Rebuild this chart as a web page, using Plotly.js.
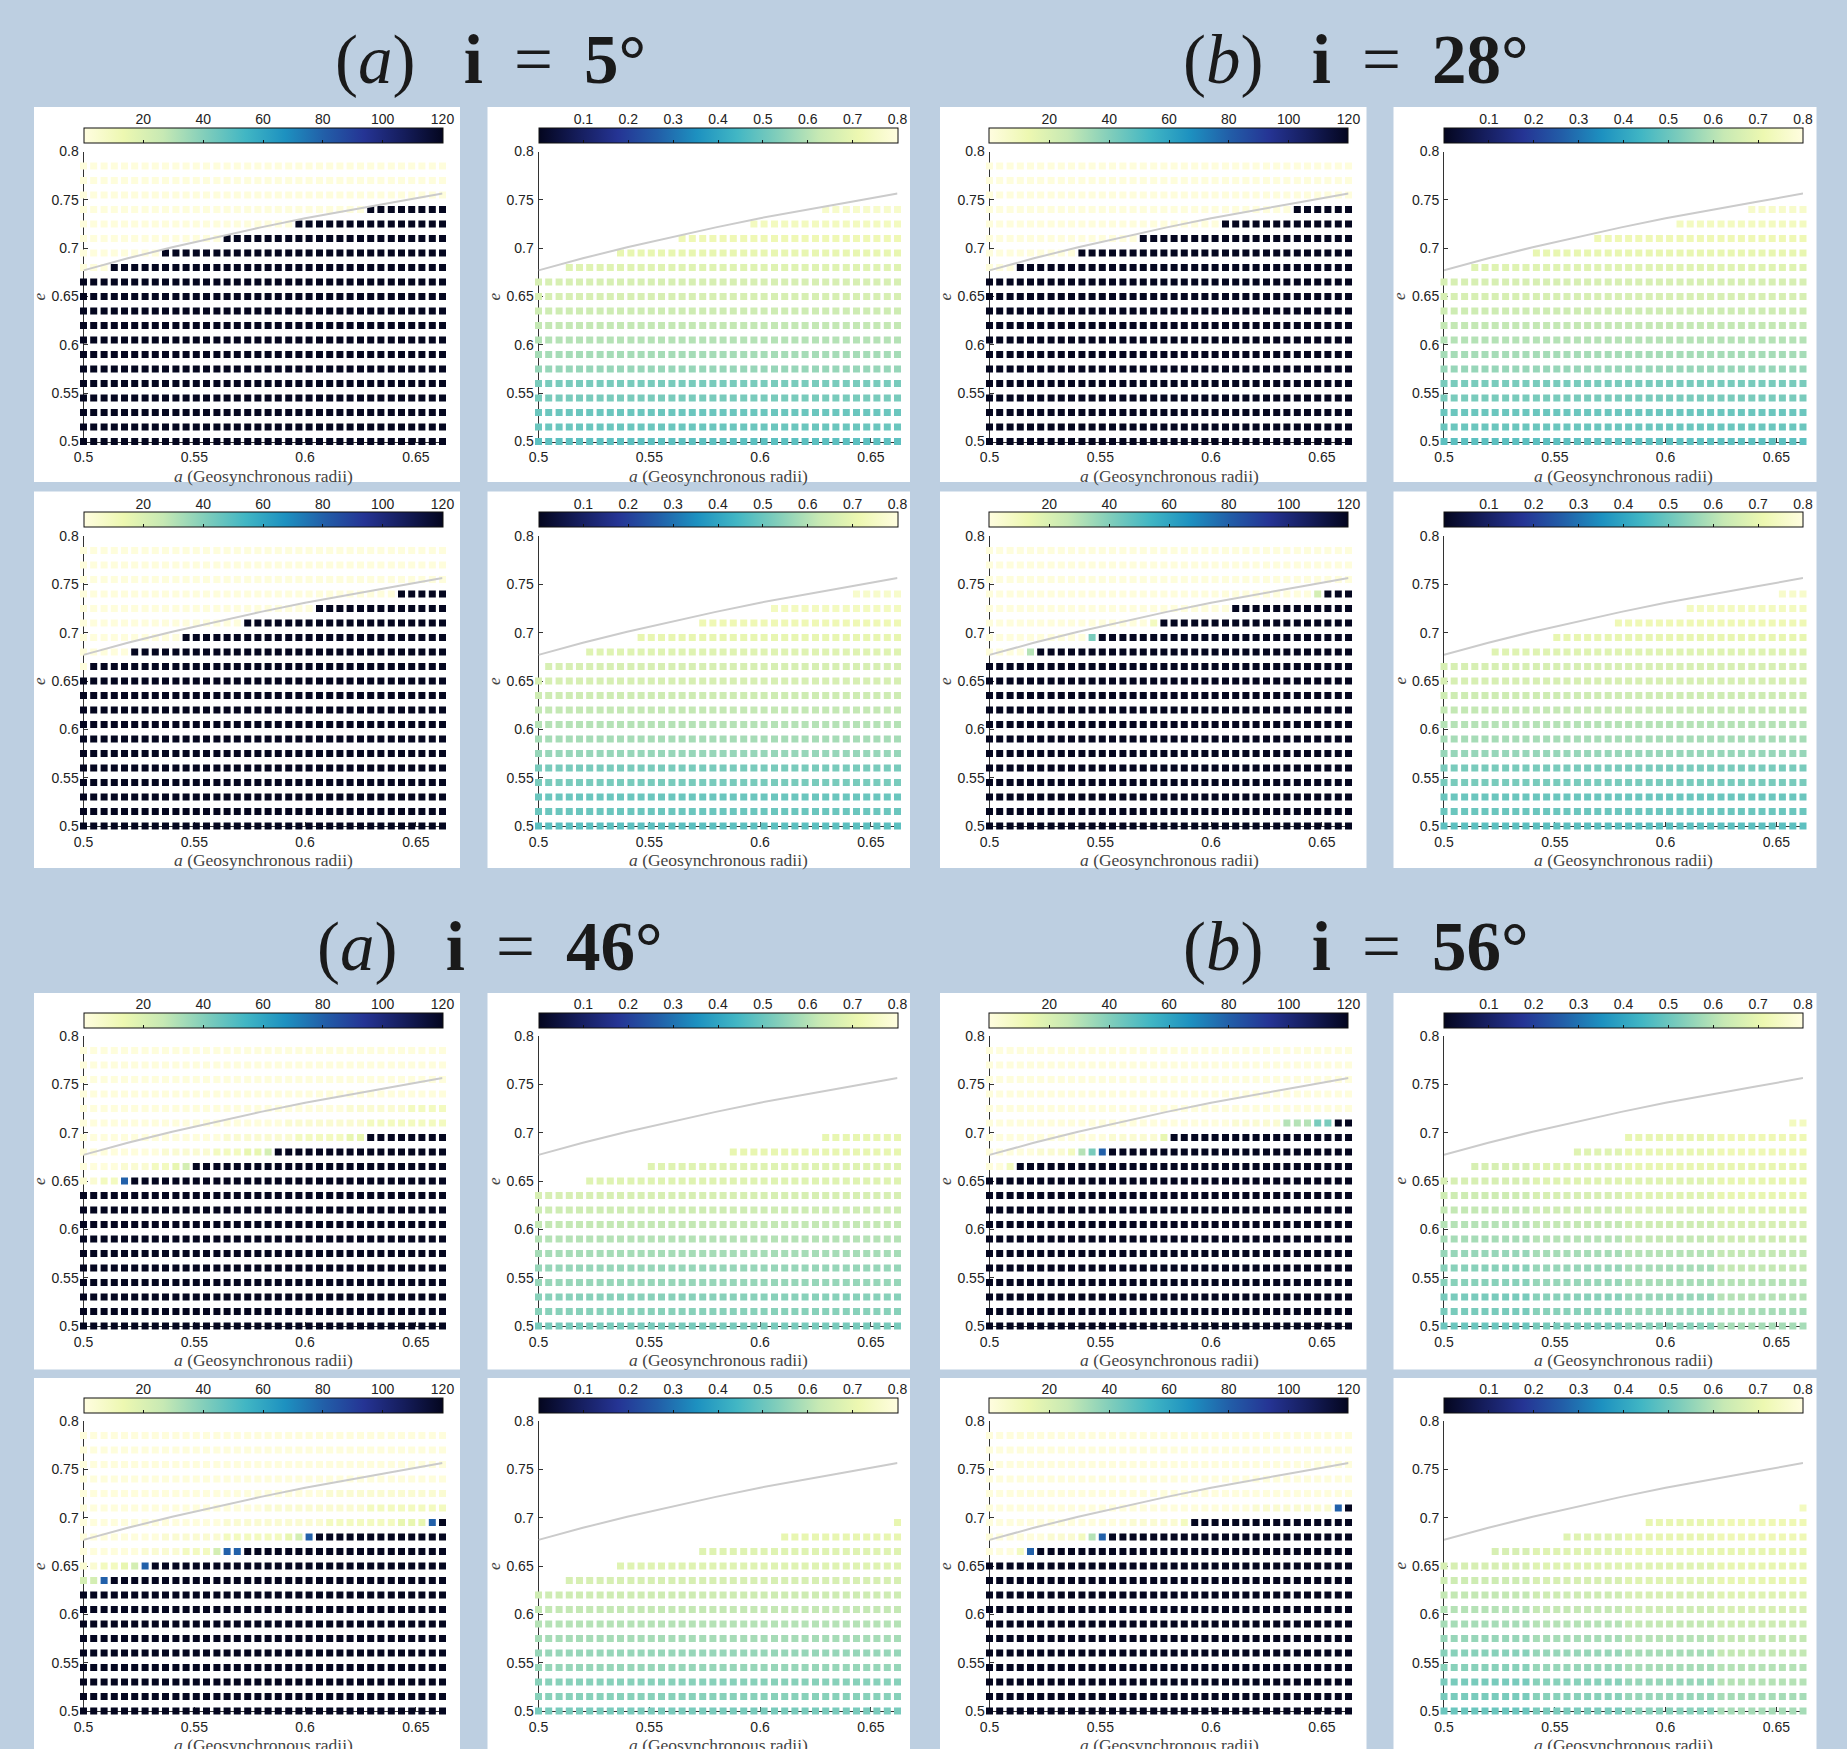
<!DOCTYPE html>
<html><head><meta charset="utf-8">
<script src="https://cdn.plot.ly/plotly-3.0.1.min.js"></script>
<style>html,body{margin:0;padding:0;background:#BDCFE1;} #chart{width:1847px;height:1749px;}</style>
</head><body><div id="chart"></div>
<script>
// ---------------- DATA ----------------
// semi-major axis grid (Geosynchronous radii), 36 columns
const A_VALUES = [0.5, 0.5046, 0.5093, 0.5139, 0.5185, 0.5231, 0.5278, 0.5324, 0.5370, 0.5417,
  0.5463, 0.5509, 0.5555, 0.5602, 0.5648, 0.5694, 0.5741, 0.5787, 0.5833, 0.5879,
  0.5926, 0.5972, 0.6018, 0.6065, 0.6111, 0.6157, 0.6203, 0.6250, 0.6296, 0.6342,
  0.6389, 0.6435, 0.6481, 0.6527, 0.6574, 0.6620];
// eccentricity grid, 20 rows (bottom to top)
const E_VALUES = [0.5, 0.515, 0.53, 0.545, 0.56, 0.575, 0.59, 0.605, 0.62, 0.635,
  0.65, 0.665, 0.68, 0.695, 0.71, 0.725, 0.74, 0.755, 0.77, 0.785];
// grey limiting curve
const CURVE_A = [0.5, 0.52, 0.54, 0.56, 0.58, 0.60, 0.62, 0.64, 0.662];
const CURVE_E = [0.677, 0.6895, 0.701, 0.7115, 0.7215, 0.731, 0.7395, 0.7475, 0.7565];

const X_TICKS = [0.5, 0.55, 0.6, 0.65];
const X_TICK_TEXT = ['0.5', '0.55', '0.6', '0.65'];
const Y_TICKS = [0.5, 0.55, 0.6, 0.65, 0.7, 0.75, 0.8];
const Y_TICK_TEXT = ['0.5', '0.55', '0.6', '0.65', '0.7', '0.75', '0.8'];
const LIFE_TICKS = [20, 40, 60, 80, 100, 120];
const ECC_TICKS = [0.1, 0.2, 0.3, 0.4, 0.5, 0.6, 0.7, 0.8];
const LIFE_RANGE = [0, 120];
const ECC_RANGE = [0, 0.8];

const SP = '\u00a0', TH = '\u2009';
const GROUP_TITLES = [
  '(<i>a</i>)' + SP + SP + TH + '<b>i</b>' + SP + TH + '=' + SP + TH + '<b>5°</b>',
  '(<i>b</i>)' + SP + SP + TH + '<b>i</b>' + SP + TH + '=' + SP + TH + '<b>28°</b>',
  '(<i>a</i>)' + SP + SP + TH + '<b>i</b>' + SP + TH + '=' + SP + TH + '<b>46°</b>',
  '(<i>b</i>)' + SP + SP + TH + '<b>i</b>' + SP + TH + '=' + SP + TH + '<b>56°</b>'
];
const X_TITLE = '<i>a</i> (Geosynchronous radii)';
const Y_TITLE = '<i>e</i>';

// level codes
const LIFE_LEVELS = {'.': 1, ',': 4, 'y': 9, 'Y': 15, 'g': 22, 'G': 30, 't': 42, 'T': 52, 'c': 64, 'b': 80, 'B': 95, '#': 120};
const ECC_CODES = 'abcdefghijklmnopqrst'; // a=0.40 ... step 0.02

// rows bottom (e=0.5) -> top (e=0.785); run-length "count+code"
const LIFE_I5_1 = ['36#','36#','36#','36#','36#','36#','36#','36#','36#','36#','36#','36#',
  '3. 33#','8. 28#','14. 22#','21. 15#','28. 8#','36.','36.','36.'];
const ECC_I5_1 = ['36e','36f','36f','36g','36g','36i','36j','36k','36l','36m','36n','36n',
  '3- 33o','8- 28p','14- 22q','21- 15r','28- 8s','36-','36-','36-'];
const LIFE_I5_2 = ['36#','36#','36#','36#','36#','36#','36#','36#','36#','36#','36#',
  '1. 35#','5. 31#','10. 26#','16. 20#','23. 13#','31. 5#','36.','36.','36.'];
const ECC_I5_2 = ['36e','36f','36f','36g','36g','36i','36j','36k','36l','36m','36n',
  '1- 35n','5- 31o','10- 26p','16- 20q','23- 13r','31- 5s','36-','36-','36-'];
const LIFE_I28_1 = ['36#','36#','36#','36#','36#','36#','36#','36#','36#','36#','36#','36#',
  '3. 33#','9. 27#','15. 21#','23. 13#','30. 6#','36.','36.','36.'];
const ECC_I28_1 = ['36e','36f','36f','36g','36g','36i','36j','36k','36l','36m','36n','36n',
  '3- 33o','9- 27p','15- 21q','23- 13r','30- 6s','36-','36-','36-'];
const LIFE_I28_2 = ['36#','36#','36#','36#','36#','36#','36#','36#','36#','36#','36#','36#',
  '4. 1G 31#','10. 1t 25#','16. 1y 19#','24. 12#','32. 1g 3#','36.','36.','36.'];
const ECC_I28_2 = ['36e','36f','36f','36g','36g','36i','36j','36k','36l','36m','36n','36n',
  '5- 31o','11- 25p','17- 19q','24- 12r','33- 3s','36-','36-','36-'];
const LIFE_I46_1 = ['36#','36#','36#','36#','36#','36#','36#','36#','36#','36#',
  '2, 2y 1b 31#','4. 3, 2y 1Y 1g 25#','8. 5, 3y 2Y 1g 17#','14. 7, 5y 2Y 8#','20. 8, 8y','26. 6, 4y','36.','36.','36.','36.'];
const ECC_I46_1 = ['36g','36h','36h','36i','36i','36j','36k','36l','36m','36n',
  '5- 31o','11- 25o','19- 17p','28- 8p','36-','36-','36-','36-','36-','36-'];
const LIFE_I46_2 = ['36#','36#','36#','36#','36#','36#','36#','36#','36#',
  '2g 1b 33#','2, 2y 1Y 1g 1b 29#','6. 4, 3y 1g 2b 20#','8. 6, 6y 1Y 1g 1b 13#','14. 10, 7y 3Y 1b 1#','18. 10, 8y','24. 12,','36.','36.','36.','36.'];
const ECC_I46_2 = ['36g','36h','36h','36i','36i','36j','36k','36l','36m',
  '3- 33n','8- 28o','16- 20o','24- 12p','35- 1p','36-','36-','36-','36-','36-','36-'];
const LIFE_I56_1 = ['36#','36#','36#','36#','36#','36#','36#','36#','36#','36#','36#',
  '2. 1y 33#','5. 3, 1y 1G 1t 1b 24#','12. 5, 1Y 18#','24. 5, 3G 2t 2#','36.','36.','36.','36.','36.'];
const ECC_I56_1 = ['9f 9g 9h 9j','9g 9h 9i 9j','9g 9h 9i 9k','9h 9i 9j 9k','9h 9i 9j 9l','9i 9j 9k 9l',
  '9j 9k 9l 9m','9k 9l 9m 9n','9l 9m 9n 9o','9m 9n 9o 9p','9n 9o 9o 9p',
  '3- 6n 9o 9p 9p','13- 5o 9p 9q','18- 9p 9q','34- 2r','36-','36-','36-','36-','36-'];
const LIFE_I56_2 = ['36#','36#','36#','36#','36#','36#','36#','36#','36#','36#','36#',
  '3. 1y 1b 31#','6. 3, 1y 1G 1b 24#','14. 5, 1y 16#','26. 8, 1b 1#','36.','36.','36.','36.','36.'];
const ECC_I56_2 = ['9f 9g 9h 9j','9g 9h 9i 9j','9g 9h 9i 9k','9h 9i 9j 9k','9h 9i 9j 9l','9i 9j 9k 9l',
  '9j 9k 9l 9m','9k 9l 9m 9n','9l 9m 9n 9o','9m 9n 9o 9p','9n 9o 9o 9p',
  '5- 4n 9o 9p 9p','12- 6o 9p 9q','20- 7p 9q','35- 1r','36-','36-','36-','36-','36-'];

// ---------------- COLOURS ----------------
const SCALE = [[0,'#fffde0'],[0.11,'#edf8b1'],[0.22,'#c7e9b4'],[0.34,'#7fcdbb'],[0.45,'#41b6c4'],
  [0.56,'#1d91c0'],[0.67,'#225ea8'],[0.78,'#253494'],[0.89,'#151d5c'],[1,'#04061f']];

// ---------------- LAYOUT GEOMETRY ----------------
const W = 1847, H = 1749;
const COL_LEFT = [83.5, 538.5, 989.5, 1444];
const PLOT_W = 359;
const ROW_TOP = [151.5, 536, 1036, 1421];
const PLOT_H = 290;
const BOX_X = [[34, 460], [487.5, 910], [940, 1366.5], [1393.5, 1816.5]];
const BOX_Y = [[107, 482], [491.5, 868], [993, 1369.5], [1378, 1749]];
const TITLE_POS = [[490, 60], [1356, 60], [490, 947], [1356, 947]];
const px = v => v / W, py = v => 1 - v / H;

const PANELS = [
  ['life', LIFE_I5_1], ['ecc', ECC_I5_1], ['life', LIFE_I28_1], ['ecc', ECC_I28_1],
  ['life', LIFE_I5_2], ['ecc', ECC_I5_2], ['life', LIFE_I28_2], ['ecc', ECC_I28_2],
  ['life', LIFE_I46_1], ['ecc', ECC_I46_1], ['life', LIFE_I56_1], ['ecc', ECC_I56_1],
  ['life', LIFE_I46_2], ['ecc', ECC_I46_2], ['life', LIFE_I56_2], ['ecc', ECC_I56_2]
];

function decodeRow(spec, kind) {
  const out = [];
  spec.trim().split(/\s+/).forEach(tok => {
    const m = tok.match(/^(\d+)(.)$/);
    const n = +m[1], ch = m[2];
    let v;
    if (kind === 'life') v = LIFE_LEVELS[ch];
    else v = ch === '-' ? null : 0.40 + 0.02 * ECC_CODES.indexOf(ch);
    for (let i = 0; i < n; i++) out.push(v);
  });
  return out;
}

const SANS = 'Liberation Sans, Arial, Helvetica, sans-serif';
const SERIF = 'Liberation Serif, Times New Roman, serif';
const AX_COL = '#333333';

const traces = [];
const layout = {
  width: W, height: H,
  margin: {l: 0, r: 0, t: 0, b: 0, pad: 0},
  paper_bgcolor: '#BDCFE1', plot_bgcolor: 'rgba(0,0,0,0)',
  showlegend: false, shapes: [], annotations: []
};

PANELS.forEach(([kind, rows], p) => {
  const r = Math.floor(p / 4), c = p % 4;
  const n = p + 1;
  const xid = n === 1 ? 'x' : 'x' + n, yid = n === 1 ? 'y' : 'y' + n;
  const xs = [], ys = [], cs = [];
  rows.forEach((spec, ri) => {
    const vals = decodeRow(spec, kind);
    vals.forEach((v, ci) => {
      if (v === null || v === undefined || ci >= A_VALUES.length) return;
      xs.push(A_VALUES[ci]); ys.push(E_VALUES[ri]); cs.push(v);
    });
  });
  const isLife = kind === 'life';
  const rng = isLife ? LIFE_RANGE : ECC_RANGE;
  const tks = isLife ? LIFE_TICKS : ECC_TICKS;
  const left = COL_LEFT[c], top = ROW_TOP[r];
  const barTop = top - 23.5, barBot = top - 8.5;
  traces.push({
    type: 'scatter', mode: 'markers', x: xs, y: ys, xaxis: xid, yaxis: yid,
    cliponaxis: false, hoverinfo: 'skip', showlegend: false,
    marker: {
      symbol: 'square', size: 7, color: cs, colorscale: SCALE, reversescale: !isLife,
      cmin: rng[0], cmax: rng[1], line: {width: 0}, showscale: true,
      colorbar: {
        orientation: 'h', x: px(left + PLOT_W / 2), xanchor: 'center', len: PLOT_W / W, lenmode: 'fraction',
        y: py(barTop), yanchor: 'top', thickness: 15, thicknessmode: 'pixels',
        xpad: 0, ypad: 0, outlinewidth: 1, outlinecolor: '#111', borderwidth: 0,
        ticks: 'inside', ticklen: 3, tickcolor: '#111', tickvals: tks, showticklabels: false
      }
    }
  });
  traces.push({
    type: 'scatter', mode: 'lines', x: CURVE_A, y: CURVE_E, xaxis: xid, yaxis: yid,
    line: {color: '#CBCBCB', width: 2}, cliponaxis: false, hoverinfo: 'skip', showlegend: false
  });
  const axBase = {
    showgrid: false, zeroline: false, showline: true, linecolor: AX_COL, linewidth: 1,
    ticks: 'inside', ticklen: 4, tickcolor: AX_COL, tickwidth: 1, layer: 'below traces',
    tickfont: {family: SANS, size: 14, color: '#222'}, automargin: false, fixedrange: true
  };
  layout[n === 1 ? 'xaxis' : 'xaxis' + n] = Object.assign({}, axBase, {
    domain: [px(left), px(left + PLOT_W)], anchor: yid, range: [0.5, 0.662],
    tickmode: 'array', tickvals: X_TICKS, ticktext: X_TICK_TEXT, ticklabelstandoff: 3
  });
  layout[n === 1 ? 'yaxis' : 'yaxis' + n] = Object.assign({}, axBase, {
    domain: [py(top + PLOT_H), py(top)], anchor: xid, range: [0.5, 0.8],
    tickmode: 'array', tickvals: Y_TICKS, ticktext: Y_TICK_TEXT, ticklabelstandoff: 1
  });
  // colourbar label axis (labels above the bar)
  const q = 16 + n;
  layout['xaxis' + q] = {
    domain: [px(left), px(left + PLOT_W)], anchor: 'y' + q, side: 'top', range: rng,
    tickmode: 'array', tickvals: tks, ticktext: tks.map(String), ticks: '', showline: false,
    showgrid: false, zeroline: false, automargin: false, fixedrange: true,
    tickfont: {family: SANS, size: 14, color: '#222'}
  };
  layout['yaxis' + q] = {
    domain: [py(barBot), py(barTop)], anchor: 'x' + q, range: [0, 1], showticklabels: false,
    ticks: '', showline: false, showgrid: false, zeroline: false, automargin: false, fixedrange: true
  };
  traces.push({type: 'scatter', x: [], y: [], xaxis: 'x' + q, yaxis: 'y' + q, hoverinfo: 'skip', showlegend: false});
  // white panel
  layout.shapes.push({type: 'rect', xref: 'paper', yref: 'paper', layer: 'below',
    x0: px(BOX_X[c][0]), x1: px(BOX_X[c][1]), y0: py(BOX_Y[r][1]), y1: py(BOX_Y[r][0]),
    fillcolor: '#ffffff', line: {width: 0}});
  // axis titles
  layout.annotations.push({xref: 'paper', yref: 'paper', x: px(left + PLOT_W / 2), y: py(top + PLOT_H + 34),
    xanchor: 'center', yanchor: 'middle', showarrow: false, text: X_TITLE,
    font: {family: SERIF, size: 17.5, color: '#444'}});
  layout.annotations.push({xref: 'paper', yref: 'paper', x: px(left - 44.5), y: py(top + PLOT_H / 2),
    xanchor: 'center', yanchor: 'middle', showarrow: false, text: Y_TITLE, textangle: -90,
    font: {family: SERIF, size: 17, color: '#444'}});
});

GROUP_TITLES.forEach((t, i) => {
  layout.annotations.push({xref: 'paper', yref: 'paper', x: px(TITLE_POS[i][0]), y: py(TITLE_POS[i][1]),
    xanchor: 'center', yanchor: 'middle', showarrow: false, text: t,
    font: {family: SERIF, size: 69, color: '#1a1a1a'}});
});

Plotly.newPlot('chart', traces, layout, {staticPlot: true, displayModeBar: false});
</script>
</body></html>
